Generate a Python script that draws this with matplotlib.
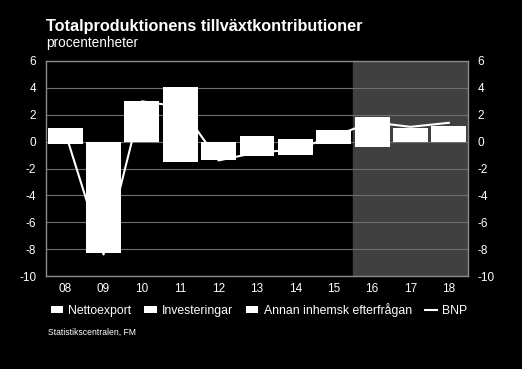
import numpy as np
import matplotlib
matplotlib.use("Agg")
from matplotlib import pyplot as plt

plt.rcParams['font.family'] = ['Liberation Sans', 'DejaVu Sans']
plt.rcParams['axes.unicode_minus'] = False

years = ['08', '09', '10', '11', '12', '13', '14', '15', '16', '17', '18']
nettoexport = [0.6, -1.6, 0.1, -1.5, -0.2, 0.4, 0.2, -0.2, -0.4, 0.1, 0.2]
investeringar = [-0.2, -3.9, 1.0, 1.2, -0.5, -0.8, -0.6, 0.3, 0.8, 0.4, 0.4]
annan = [0.4, -2.8, 1.9, 2.9, -0.7, -0.3, -0.4, 0.6, 1.0, 0.55, 0.6]
bnp = [0.7, -8.4, 3.0, 2.6, -1.4, -0.8, -0.6, 0.4, 1.45, 1.1, 1.4]

fig = plt.figure(figsize=(5.22, 3.69), dpi=100, facecolor='black')
ax = fig.add_axes([0.0881, 0.252, 0.8084, 0.5827], facecolor='black')

x = np.arange(len(years))
ax.axvspan(7.5, 10.5, color='#404040', zorder=0)

for v in range(-10, 7, 2):
    ax.axhline(v, color='#6e6e6e', lw=0.8, zorder=1)

ax.plot(x, bnp, color='white', lw=1.5, zorder=2, label='BNP')

pos = np.zeros(len(x))
neg = np.zeros(len(x))
series = [(nettoexport, 'Nettoexport'), (investeringar, 'Investeringar'),
          (annan, 'Annan inhemsk efterfrågan')]
handles = []
for vals, name in series:
    vals = np.array(vals)
    bottom = np.where(vals >= 0, pos, neg)
    b = ax.bar(x, vals, width=0.91, bottom=bottom, color='white', zorder=3,
               label=name)
    handles.append(b)
    pos = pos + np.where(vals >= 0, vals, 0)
    neg = neg + np.where(vals < 0, vals, 0)

ax.set_xlim(-0.5, 10.5)
ax.set_ylim(-10, 6)
ax.set_yticks(range(-10, 7, 2))
ax.set_xticks(x)
ax.set_xticklabels(years)
ax.tick_params(colors='white', labelsize=8.5, length=0, pad=5)
ax.tick_params(axis='y', labelright=True, right=False, pad=7)
for s in ax.spines.values():
    s.set_color('#8a8a8a')
    s.set_linewidth(1.0)

fig.text(0.088, 0.915, 'Totalproduktionens tillväxtkontributioner',
         color='white', fontsize=11.7, fontweight='bold')
fig.text(0.088, 0.872, 'procentenheter', color='white', fontsize=9.8)

line_handle = ax.get_lines()[-1]
leg = fig.legend(handles + [line_handle],
                 ['Nettoexport', 'Investeringar', 'Annan inhemsk efterfrågan', 'BNP'],
                 loc='center left', bbox_to_anchor=(0.076, 0.16), ncol=4,
                 frameon=False, fontsize=8.8, handlelength=1.0, handleheight=0.5,
                 handletextpad=0.45, columnspacing=1.05, labelcolor='white')

fig.text(0.092, 0.093, 'Statistikscentralen, FM', color='white', fontsize=6.2)

fig.savefig('out.png', dpi=100, facecolor='black')
